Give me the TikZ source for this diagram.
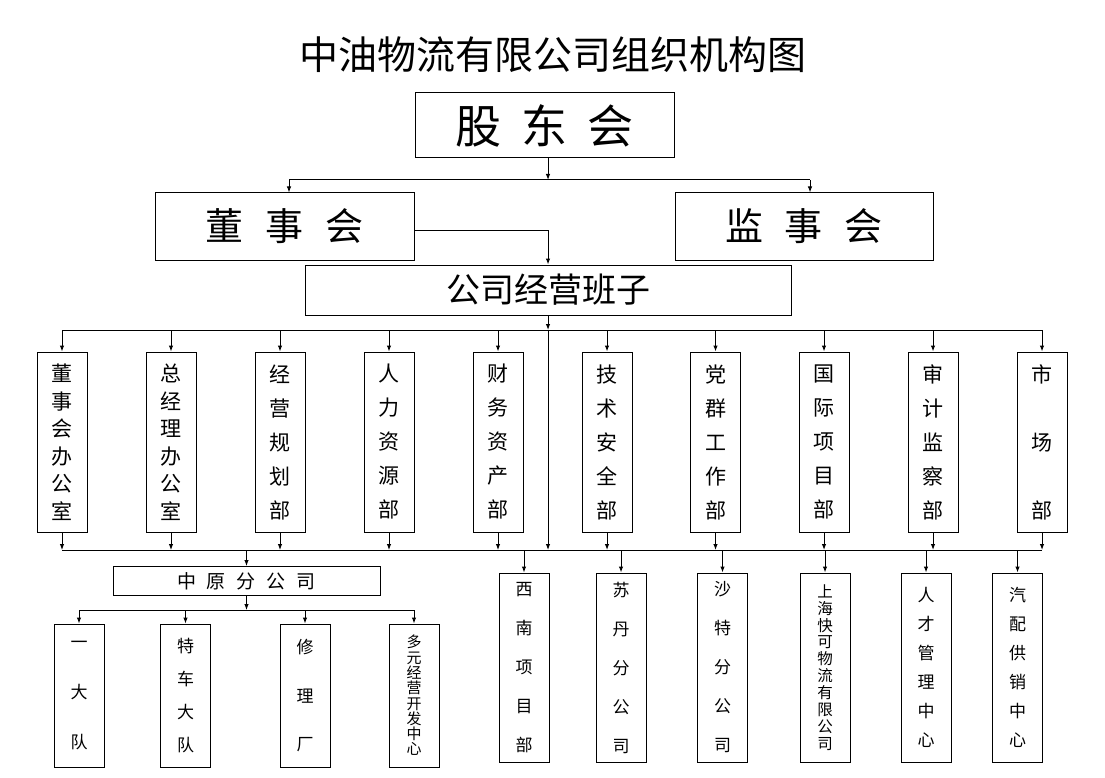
\documentclass[tikz,border=0pt]{standalone}
\usepackage{fontspec}
\newfontfamily\cjk{Noto Sans CJK SC}
\usetikzlibrary{arrows.meta}
\newcommand\vf[2]{\cjk\fontsize{#1pt}{#2pt}\selectfont}
\tikzset{
  box/.style={draw, line width=1pt, inner sep=0pt, align=center},
  ln/.style={line width=1pt},
  arr/.style={line width=1pt, -{Latex[length=6pt,width=4.5pt]}},
  dept/.style={box, minimum width=50pt, minimum height=180pt},
  sub/.style={box, minimum width=50pt, minimum height=189pt},
  team/.style={box, minimum width=50pt, minimum height=143pt}
}
\begin{document}
\begin{tikzpicture}[x=1pt,y=-1pt]
\useasboundingbox (0,0) rectangle (1105,778);
\fill[white] (0,0) rectangle (1105,778);

% title
\node[font=\vf{39}{44}] (title) at (552.5,55) {中油物流有限公司组织机构图};

% top levels
\node[box, minimum width=259pt, minimum height=65pt, font=\vf{46}{50}] (gd) at (544.5,125.5) {股\hspace{20pt}东\hspace{20pt}会};
\node[box, minimum width=259pt, minimum height=67pt, font=\vf{38}{42}] (ds) at (284.5,226.5) {董\hspace{22pt}事\hspace{22pt}会};
\node[box, minimum width=258pt, minimum height=67pt, font=\vf{38}{42}] (js) at (804,226.5) {监\hspace{22pt}事\hspace{22pt}会};
\node[box, minimum width=486pt, minimum height=50pt, font=\vf{34}{38}] (bz) at (548,290) {公司经营班子};

% departments
\node[dept, font=\vf{21}{27.5}] (d1) at (62,442) {董\\事\\会\\办\\公\\室};
\node[dept, font=\vf{21}{27.5}] (d2) at (171,442) {总\\经\\理\\办\\公\\室};
\node[dept, font=\vf{21}{34}] (d3) at (280,442) {经\\营\\规\\划\\部};
\node[dept, font=\vf{21}{34}] (d4) at (389,442) {人\\力\\资\\源\\部};
\node[dept, font=\vf{21}{34}] (d5) at (498,442) {财\\务\\资\\产\\部};
\node[dept, font=\vf{21}{34}] (d6) at (607,442) {技\\术\\安\\全\\部};
\node[dept, font=\vf{21}{34}] (d7) at (715.5,442) {党\\群\\工\\作\\部};
\node[dept, font=\vf{21}{34}] (d8) at (824,442) {国\\际\\项\\目\\部};
\node[dept, font=\vf{21}{34}] (d9) at (933,442) {审\\计\\监\\察\\部};
\node[dept, font=\vf{21}{68}] (d10) at (1042,442) {市\\场\\部};

% branch offices
\node[box, minimum width=267pt, minimum height=29pt, font=\vf{19}{22}] (zy) at (246.5,581) {中\hspace{11pt}原\hspace{11pt}分\hspace{11pt}公\hspace{11pt}司};
\node[sub, font=\vf{17}{39}] (b1) at (524,667.5) {西\\南\\项\\目\\部};
\node[sub, font=\vf{17}{39}] (b2) at (621,667.5) {苏\\丹\\分\\公\\司};
\node[sub, font=\vf{17}{39}] (b3) at (722.5,667.5) {沙\\特\\分\\公\\司};
\node[sub, font=\vf{15.5}{16.9}] (b4) at (825,667.5) {上\\海\\快\\可\\物\\流\\有\\限\\公\\司};
\node[sub, font=\vf{17}{29}] (b5) at (926,667.5) {人\\才\\管\\理\\中\\心};
\node[sub, font=\vf{17}{29}] (b6) at (1017.5,667.5) {汽\\配\\供\\销\\中\\心};

% teams under 中原分公司
\node[team, font=\vf{17}{50}] (s1) at (79,695.5) {一\\大\\队};
\node[team, font=\vf{17}{33}] (s2) at (185.5,695.5) {特\\车\\大\\队};
\node[team, font=\vf{17}{48.5}] (s3) at (305,695.5) {修\\理\\厂};
\node[team, font=\vf{15}{15.3}] (s4) at (414,695.5) {多\\元\\经\\营\\开\\发\\中\\心};

% connectors: top
\coordinate (j0) at (548,180);
\coordinate (jl) at (289,180);
\coordinate (jr) at (810,180);
\draw[arr] (gd.south -| j0) -- (j0);
\draw[ln] (jl) -- (jr);
\draw[arr] (jl) -- (jl |- ds.north);
\draw[arr] (jr) -- (jr |- js.north);
\draw[arr] ([yshift=-3.5pt]ds.east) -| (j0 |- bz.north);

% connectors: departments
\coordinate (k0) at (548,330);
\coordinate (m0) at (548,550);
\draw[arr] (bz.south -| k0) -- (k0);
\draw[ln] (d1.north |- k0) -- (d10.north |- k0);
\draw[arr] (k0) -- (m0);
\draw[ln] (d1.south |- m0) -- (d10.south |- m0);
\foreach \i in {1,...,10}{
  \draw[arr] (d\i.north |- k0) -- (d\i.north);
  \draw[arr] (d\i.south) -- (d\i.south |- m0);
}

% connectors: branches
\draw[arr] (zy.north |- m0) -- (zy.north);
\foreach \i in {1,...,6}{
  \draw[arr] (b\i.north |- m0) -- (b\i.north);
}
\coordinate (n0) at (246.5,610);
\draw[arr] (zy.south) -- (n0);
\draw[ln] (s1.north |- n0) -- (s4.north |- n0);
\foreach \i in {1,...,4}{
  \draw[arr] (s\i.north |- n0) -- (s\i.north);
}
\end{tikzpicture}
\end{document}
